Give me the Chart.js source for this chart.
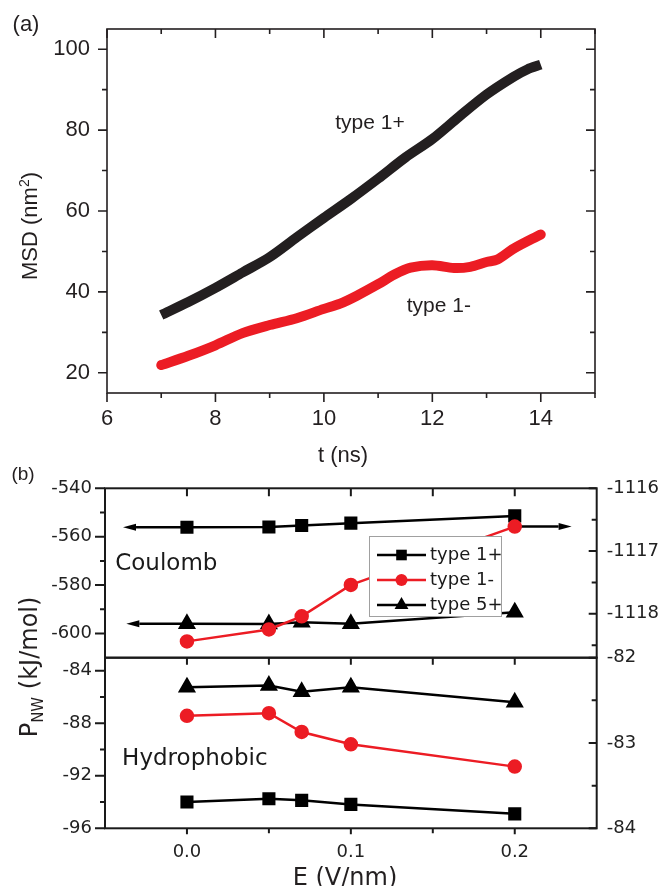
<!DOCTYPE html>
<html>
<head>
<meta charset="utf-8">
<title>MSD and P_NW</title>
<script src="https://cdn.jsdelivr.net/npm/chart.js@4.4.1/dist/chart.umd.min.js"></script>
<style>
  html, body { margin: 0; padding: 0; background: #fff; }
  #page { position: relative; width: 661px; height: 886px; overflow: hidden; }
  #page canvas { position: absolute; left: 0; }
  .txt { position: absolute; white-space: nowrap; line-height: 1; color: #231f20; transform: translate(-50%, -50%); }
  .vert { transform: translate(-50%, -50%) rotate(-90deg); }
</style>
</head>
<body>
<div id="page">
  <canvas id="msdChart" width="661" height="470" style="top:0"></canvas>
  <canvas id="coulombChart" width="661" height="212" style="top:460px"></canvas>
  <canvas id="hydroChart" width="661" height="246" style="top:640px"></canvas>

  <div class="txt" style="left:26px; top:24px; font:22px 'Liberation Sans'">(a)</div>
  <div class="txt vert" style="left:30px; top:226px; font:22px 'Liberation Sans'">MSD (nm<span style="font-size:14px; position:relative; top:-8px">2</span>)</div>
  <div class="txt" style="left:343px; top:455px; font:22px 'Liberation Sans'">t (ns)</div>
  <div class="txt" style="left:23px; top:474px; font:19px 'Liberation Sans'">(b)</div>
  <div class="txt vert" style="left:29px; top:667px; font:24px 'DejaVu Sans'">P<span style="font-size:15px; position:relative; top:6px">NW</span> (kJ/mol)</div>
  <div class="txt" style="left:345px; top:877px; font:24px 'DejaVu Sans'">E (V/nm)</div>
</div>

<script>
// (a) MSD against time
const timeType1Plus = [7, 7.5, 8, 8.5, 9, 9.5, 10, 10.5, 11, 11.5, 12, 12.5, 13, 13.5, 13.75, 14];
const msdType1Plus = [34.3, 37.5, 41.0, 44.8, 48.6, 53.5, 58.3, 63.0, 68.0, 73.2, 77.8, 83.4, 88.8, 93.2, 95.0, 96.2];
const timeType1Minus = [7, 7.5, 8, 8.5, 9, 9.5, 10, 10.3, 10.6, 11, 11.3, 11.6, 12, 12.4, 12.7, 13, 13.2, 13.5, 14];
const msdType1Minus = [21.9, 24.2, 26.8, 29.8, 31.8, 33.5, 35.8, 37.1, 39.0, 41.9, 44.3, 46.0, 46.6, 45.9, 46.2, 47.4, 48.0, 50.7, 54.2];
const timeTicks = [6, 7, 8, 9, 10, 11, 12, 13, 14, 15];
const timeLabels = [6, 8, 10, 12, 14];
const msdTicks = [20, 30, 40, 50, 60, 70, 80, 90, 100];
const msdLabels = [20, 40, 60, 80, 100];

// (b) P_NW against field, Coulomb (top) and hydrophobic (bottom)
const fieldE = [0, 0.05, 0.07, 0.1, 0.2];
const coulombType1Plus = [-556.1, -556.0, -555.4, -554.4, -551.4];
const coulombType1Minus = [-1118.44, -1118.25, -1118.04, -1117.54, -1116.61];
const coulombType5Plus = [-596.0, -596.1, -595.4, -596.0, -591.2];
const hydroType1Plus = [-94.0, -93.75, -93.87, -94.18, -94.9];
const hydroType1Minus = [-87.43, -87.23, -88.66, -89.6, -91.3];
const hydroType5Plus = [-85.25, -85.12, -85.6, -85.25, -86.4];
const fieldTicks = [0, 0.05, 0.1, 0.15, 0.2];
const fieldLabels = [0, 0.1, 0.2];
const coulombTicks = [-600, -590, -580, -570, -560, -550, -540];
const coulombLabels = [-600, -580, -560, -540];
const coulombRightTicks = [-1118.5, -1118, -1117.5, -1117, -1116.5, -1116];
const coulombRightLabels = [-1118, -1117, -1116];
const hydroTicks = [-96, -94, -92, -90, -88, -86, -84];
const hydroLabels = [-96, -92, -88, -84];
const hydroRightTicks = [-84, -83.5, -83, -82.5, -82];
const hydroRightLabels = [-84, -83, -82];

const RED = '#ec1c24';
const INK = '#231f20';
const pts = (xs, ys) => xs.map((x, i) => ({ x: x, y: ys[i] }));

function makeAxis(o) {
    return {
        type: 'linear',
        position: o.position,
        display: o.display !== false,
        min: o.min,
        max: o.max,
        afterBuildTicks: s => { s.ticks = o.ticks.map(v => ({ value: v })); },
        afterFit: s => {
            if (s.isHorizontal()) s.height = o.size; else s.width = o.size;
            // plot area is fixed by the layout padding, not by label overhang
            s.paddingTop = s.paddingBottom = s.paddingLeft = s.paddingRight = 0;
        },
        grid: { display: false, drawTicks: false },
        border: { display: false },
        ticks: {
            autoSkip: false, maxRotation: 0, minRotation: 0,
            padding: o.padding || 0, color: o.color, font: o.font,
            callback: v => o.labels.includes(v) ? o.format(v) : ''
        }
    };
}

function drawMarker(ctx, style, r, color, x, y) {
    ctx.fillStyle = color;
    ctx.beginPath();
    if (style === 'rect') {
        const s = r * Math.SQRT1_2;
        ctx.rect(x - s, y - s, 2 * s, 2 * s);
    } else if (style === 'triangle') {
        let a = 0;
        ctx.moveTo(x + Math.sin(a) * r, y - Math.cos(a) * r);
        a += 2 * Math.PI / 3;
        ctx.lineTo(x + Math.sin(a) * r, y - Math.cos(a) * r);
        a += 2 * Math.PI / 3;
        ctx.lineTo(x + Math.sin(a) * r, y - Math.cos(a) * r);
        ctx.closePath();
    } else {
        ctx.arc(x, y, r, 0, Math.PI * 2);
    }
    ctx.fill();
}

// box round the plot area plus the tick marks on every side
const frameTicks = {
    id: 'frameTicks',
    afterDatasetsDraw(chart, args, o) {
        const { ctx, chartArea: a } = chart;
        ctx.save();
        ctx.strokeStyle = o.color;
        ctx.lineWidth = o.width;
        ctx.beginPath();
        for (const side of o.sides) {
            const scale = chart.scales[side.scale];
            for (const t of scale.ticks) {
                const len = (t.label === '' ? side.minor : side.major) * side.dir;
                const p = scale.getPixelForValue(t.value);
                if (side.edge === 'bottom') { ctx.moveTo(p, a.bottom); ctx.lineTo(p, a.bottom + len); }
                else if (side.edge === 'top') { ctx.moveTo(p, a.top); ctx.lineTo(p, a.top - len); }
                else if (side.edge === 'left') { ctx.moveTo(a.left, p); ctx.lineTo(a.left - len, p); }
                else { ctx.moveTo(a.right, p); ctx.lineTo(a.right + len, p); }
            }
        }
        ctx.stroke();
        ctx.strokeRect(a.left, a.top, a.right - a.left, a.bottom - a.top);
        ctx.restore();
    }
};

// free text placed in data units
const notes = {
    id: 'notes',
    afterDatasetsDraw(chart, args, o) {
        const ctx = chart.ctx;
        ctx.save();
        ctx.textAlign = 'center';
        ctx.textBaseline = 'middle';
        for (const n of o.items) {
            ctx.font = n.font;
            ctx.fillStyle = n.color;
            ctx.fillText(n.text, chart.scales.x.getPixelForValue(n.x), chart.scales[n.axis].getPixelForValue(n.y));
        }
        ctx.restore();
    }
};

// arrows telling which y axis a series belongs to
const axisArrows = {
    id: 'axisArrows',
    beforeDatasetsDraw(chart, args, o) {
        const ctx = chart.ctx;
        ctx.save();
        ctx.strokeStyle = o.color;
        ctx.fillStyle = o.color;
        ctx.lineWidth = o.width;
        for (const ar of o.items) {
            const ds = chart.data.datasets[ar.dataset];
            const pt = ds.data[ar.index];
            const x1 = chart.scales.x.getPixelForValue(pt.x);
            const y = chart.scales[ds.yAxisID].getPixelForValue(pt.y);
            const x2 = chart.scales.x.getPixelForValue(ar.toE);
            const dir = Math.sign(x2 - x1);
            ctx.beginPath();
            ctx.moveTo(x1, y);
            ctx.lineTo(x2 - dir * o.head, y);
            ctx.stroke();
            ctx.beginPath();
            ctx.moveTo(x2, y);
            ctx.lineTo(x2 - dir * o.head, y - o.half);
            ctx.lineTo(x2 - dir * o.head, y + o.half);
            ctx.closePath();
            ctx.fill();
        }
        ctx.restore();
    }
};

// boxed legend inside the Coulomb panel
const boxLegend = {
    id: 'boxLegend',
    afterDatasetsDraw(chart, args, o) {
        const ctx = chart.ctx;
        const x0 = Math.round(chart.scales.x.getPixelForValue(o.x));
        const y0 = Math.round(chart.scales.y.getPixelForValue(o.y));
        ctx.save();
        ctx.fillStyle = '#fff';
        ctx.fillRect(x0, y0, o.width, o.height);
        ctx.strokeStyle = o.borderColor;
        ctx.lineWidth = 1;
        ctx.strokeRect(x0 + 0.5, y0 + 0.5, o.width, o.height);
        chart.data.datasets.forEach((ds, i) => {
            const cy = y0 + o.firstRow + i * o.rowGap;
            ctx.strokeStyle = ds.borderColor;
            ctx.lineWidth = ds.borderWidth;
            ctx.beginPath();
            ctx.moveTo(x0 + o.lineStart, cy);
            ctx.lineTo(x0 + o.lineEnd, cy);
            ctx.stroke();
            drawMarker(ctx, ds.pointStyle, ds.pointRadius, ds.pointBackgroundColor, x0 + (o.lineStart + o.lineEnd) / 2, cy);
            ctx.fillStyle = o.color;
            ctx.font = o.font;
            ctx.textAlign = 'left';
            ctx.textBaseline = 'middle';
            ctx.fillText(ds.label, x0 + o.textStart, cy);
        });
        ctx.restore();
    }
};

const base = {
    responsive: false,
    animation: false,
    devicePixelRatio: 1,
    events: []
};

// ----- panel (a) -----
const fontA = { family: 'Liberation Sans', size: 22 };
new Chart(document.getElementById('msdChart'), {
    type: 'line',
    data: {
        datasets: [
            {
                label: 'type 1+', data: pts(timeType1Plus, msdType1Plus),
                borderColor: INK, borderWidth: 10, pointRadius: 0, tension: 0.3,
                borderCapStyle: 'butt', borderJoinStyle: 'round'
            },
            {
                label: 'type 1-', data: pts(timeType1Minus, msdType1Minus),
                borderColor: RED, borderWidth: 10, pointRadius: 0, tension: 0.3,
                borderCapStyle: 'round', borderJoinStyle: 'round'
            }
        ]
    },
    options: {
        ...base,
        layout: { padding: { top: 29, right: 66, bottom: 0, left: 0 } },
        scales: {
            x: makeAxis({ position: 'bottom', min: 6, max: 15, ticks: timeTicks, labels: timeLabels,
                format: v => String(v), size: 77, padding: 13, color: INK, font: fontA }),
            y: makeAxis({ position: 'left', min: 15, max: 105, ticks: msdTicks, labels: msdLabels,
                format: v => String(v), size: 107, padding: 17, color: INK, font: fontA })
        },
        plugins: {
            legend: { display: false },
            tooltip: { enabled: false },
            frameTicks: {
                color: INK, width: 1.6,
                sides: [
                    { scale: 'x', edge: 'bottom', dir: 1, major: 9, minor: 5 },
                    { scale: 'x', edge: 'top', dir: -1, major: 9, minor: 5 },
                    { scale: 'y', edge: 'left', dir: 1, major: 9, minor: 5 },
                    { scale: 'y', edge: 'right', dir: -1, major: 9, minor: 5 }
                ]
            },
            notes: {
                items: [
                    { text: 'type 1+', x: 10.85, y: 81.8, axis: 'y', font: "21px 'Liberation Sans'", color: INK },
                    { text: 'type 1-', x: 12.12, y: 36.4, axis: 'y', font: "21px 'Liberation Sans'", color: INK }
                ]
            }
        }
    },
    plugins: [frameTicks, notes]
});

// ----- panel (b) -----
const fontB = { family: 'DejaVu Sans', size: 18 };
const TICK_B = '#222';

function seriesSet(ys1p, ys1m, ys5p, minusAxis) {
    return [
        {
            label: 'type 1+', data: pts(fieldE, ys1p), yAxisID: 'y', order: 1,
            borderColor: '#000', borderWidth: 2.5, tension: 0,
            pointStyle: 'rect', pointRadius: 7.5, pointBackgroundColor: '#000', pointBorderColor: '#000'
        },
        {
            label: 'type 1-', data: pts(fieldE, ys1m), yAxisID: minusAxis, order: 0,
            borderColor: RED, borderWidth: 2.5, tension: 0,
            pointStyle: 'circle', pointRadius: 6, pointBackgroundColor: RED, pointBorderColor: RED
        },
        {
            label: 'type 5+', data: pts(fieldE, ys5p), yAxisID: 'y', order: 1,
            borderColor: '#000', borderWidth: 2.5, tension: 0,
            pointStyle: 'triangle', pointRadius: 8, pointBackgroundColor: '#000', pointBorderColor: '#000'
        }
    ];
}

const fmtE = v => v.toFixed(1);
const fmtInt = v => String(v);

new Chart(document.getElementById('coulombChart'), {
    type: 'line',
    data: { datasets: seriesSet(coulombType1Plus, coulombType1Minus, coulombType5Plus, 'y2') },
    options: {
        ...base,
        layout: { padding: { top: 28.3, right: 0, bottom: 14.3, left: 0 } },
        scales: {
            x: makeAxis({ position: 'bottom', display: false, min: -0.05, max: 0.25, ticks: fieldTicks,
                labels: fieldTicks, format: fmtE, size: 0, color: TICK_B, font: fontB }),
            y: makeAxis({ position: 'left', min: -610, max: -540, ticks: coulombTicks, labels: coulombLabels,
                format: fmtInt, size: 105, padding: 13, color: TICK_B, font: fontB }),
            y2: makeAxis({ position: 'right', min: -1118.7, max: -1116, ticks: coulombRightTicks,
                labels: coulombRightLabels, format: fmtInt, size: 64.3, padding: 10, color: TICK_B, font: fontB })
        },
        plugins: {
            legend: { display: false },
            tooltip: { enabled: false },
            frameTicks: {
                color: '#1a1a1a', width: 2,
                sides: [
                    { scale: 'x', edge: 'top', dir: -1, major: 8, minor: 8 },
                    { scale: 'y', edge: 'left', dir: 1, major: 10, minor: 5 },
                    { scale: 'y2', edge: 'right', dir: -1, major: 8, minor: 5 }
                ]
            },
            axisArrows: {
                color: '#000', width: 2.5, head: 13, half: 3.5,
                items: [
                    { dataset: 0, index: 0, toE: -0.039 },
                    { dataset: 2, index: 0, toE: -0.037 },
                    { dataset: 1, index: 4, toE: 0.2347 }
                ]
            },
            notes: {
                items: [
                    { text: 'Coulomb', x: -0.0126, y: -571.2, axis: 'y', font: "23px 'DejaVu Sans'", color: '#1a1a1a' }
                ]
            },
            boxLegend: {
                x: 0.1112, y: -559.6, width: 132, height: 80,
                borderColor: '#a0a0a0', firstRow: 19, rowGap: 25,
                lineStart: 8, lineEnd: 57, textStart: 61,
                font: "18px 'DejaVu Sans'", color: '#1a1a1a'
            }
        }
    },
    plugins: [axisArrows, frameTicks, notes, boxLegend]
});

new Chart(document.getElementById('hydroChart'), {
    type: 'line',
    data: { datasets: seriesSet(hydroType1Plus, hydroType1Minus, hydroType5Plus, 'y') },
    options: {
        ...base,
        layout: { padding: { top: 17.7, right: 0, bottom: 0, left: 0 } },
        scales: {
            x: makeAxis({ position: 'bottom', min: -0.05, max: 0.25, ticks: fieldTicks, labels: fieldLabels,
                format: fmtE, size: 57.7, padding: 13, color: TICK_B, font: fontB }),
            y: makeAxis({ position: 'left', min: -96, max: -83, ticks: hydroTicks, labels: hydroLabels,
                format: fmtInt, size: 105, padding: 13, color: TICK_B, font: fontB }),
            y2: makeAxis({ position: 'right', min: -84, max: -82, ticks: hydroRightTicks, labels: hydroRightLabels,
                format: fmtInt, size: 64.3, padding: 10, color: TICK_B, font: fontB })
        },
        plugins: {
            legend: { display: false },
            tooltip: { enabled: false },
            frameTicks: {
                color: '#1a1a1a', width: 2,
                sides: [
                    { scale: 'x', edge: 'bottom', dir: 1, major: 6, minor: 5 },
                    { scale: 'x', edge: 'top', dir: -1, major: 7, minor: 7 },
                    { scale: 'y', edge: 'left', dir: 1, major: 10, minor: 5 },
                    { scale: 'y2', edge: 'right', dir: -1, major: 8, minor: 5 }
                ]
            },
            notes: {
                items: [
                    { text: 'Hydrophobic', x: 0.0048, y: -90.7, axis: 'y', font: "23px 'DejaVu Sans'", color: '#1a1a1a' }
                ]
            }
        }
    },
    plugins: [frameTicks, notes]
});
</script>
</body>
</html>
